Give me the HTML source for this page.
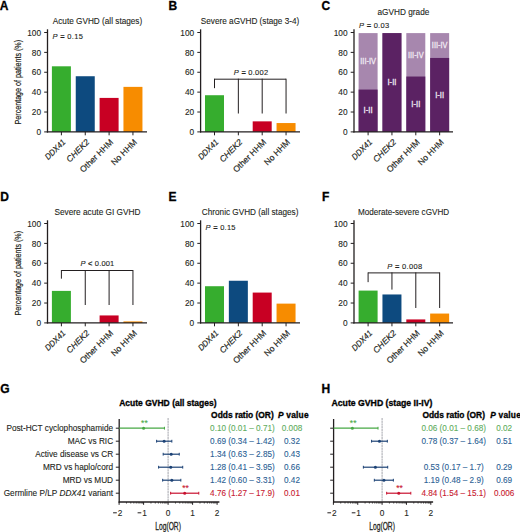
<!DOCTYPE html><html><head><meta charset="utf-8"><style>html,body{margin:0;padding:0;background:#fff;}svg{display:block;}text{font-family:"Liberation Sans", sans-serif;}</style></head><body>
<svg width="520" height="532" viewBox="0 0 520 532">
<rect width="520" height="532" fill="#fff"/>
<text x="-0.20" y="10.40" font-size="12" text-anchor="start" fill="#000" stroke="#000" stroke-width="0.3" font-weight="bold" >A</text>
<text x="168.40" y="10.40" font-size="12" text-anchor="start" fill="#000" stroke="#000" stroke-width="0.3" font-weight="bold" >B</text>
<text x="321.40" y="10.40" font-size="12" text-anchor="start" fill="#000" stroke="#000" stroke-width="0.3" font-weight="bold" >C</text>
<text x="0.20" y="201.30" font-size="12" text-anchor="start" fill="#000" stroke="#000" stroke-width="0.3" font-weight="bold" >D</text>
<text x="168.60" y="201.30" font-size="12" text-anchor="start" fill="#000" stroke="#000" stroke-width="0.3" font-weight="bold" >E</text>
<text x="322.00" y="201.30" font-size="12" text-anchor="start" fill="#000" stroke="#000" stroke-width="0.3" font-weight="bold" >F</text>
<text x="0.30" y="392.60" font-size="12" text-anchor="start" fill="#000" stroke="#000" stroke-width="0.3" font-weight="bold" >G</text>
<text x="321.40" y="392.60" font-size="12" text-anchor="start" fill="#000" stroke="#000" stroke-width="0.3" font-weight="bold" >H</text>
<rect x="51.90" y="66.30" width="19.00" height="65.60" fill="#36ad2e"/>
<rect x="75.75" y="76.24" width="19.00" height="55.66" fill="#0d4a7f"/>
<rect x="99.60" y="97.91" width="19.00" height="33.99" fill="#c80023"/>
<rect x="123.45" y="86.87" width="19.00" height="45.03" fill="#f78c00"/>
<line x1="47.50" y1="29.30" x2="47.50" y2="132.50" stroke="#231f20" stroke-width="1.3" />
<line x1="44.20" y1="131.90" x2="47.50" y2="131.90" stroke="#231f20" stroke-width="1.0" />
<text x="41.10" y="135.10" font-size="8.3" text-anchor="end" fill="#231f20" stroke="#231f20" stroke-width="0.1" >0</text>
<line x1="44.20" y1="112.02" x2="47.50" y2="112.02" stroke="#231f20" stroke-width="1.0" />
<text x="41.10" y="115.22" font-size="8.3" text-anchor="end" fill="#231f20" stroke="#231f20" stroke-width="0.1" >20</text>
<line x1="44.20" y1="92.14" x2="47.50" y2="92.14" stroke="#231f20" stroke-width="1.0" />
<text x="41.10" y="95.34" font-size="8.3" text-anchor="end" fill="#231f20" stroke="#231f20" stroke-width="0.1" >40</text>
<line x1="44.20" y1="72.26" x2="47.50" y2="72.26" stroke="#231f20" stroke-width="1.0" />
<text x="41.10" y="75.46" font-size="8.3" text-anchor="end" fill="#231f20" stroke="#231f20" stroke-width="0.1" >60</text>
<line x1="44.20" y1="52.38" x2="47.50" y2="52.38" stroke="#231f20" stroke-width="1.0" />
<text x="41.10" y="55.58" font-size="8.3" text-anchor="end" fill="#231f20" stroke="#231f20" stroke-width="0.1" >80</text>
<line x1="44.20" y1="32.50" x2="47.50" y2="32.50" stroke="#231f20" stroke-width="1.0" />
<text x="41.10" y="35.70" font-size="8.3" text-anchor="end" fill="#231f20" stroke="#231f20" stroke-width="0.1" >100</text>
<line x1="46.90" y1="131.90" x2="147.00" y2="131.90" stroke="#231f20" stroke-width="1.3" />
<line x1="61.40" y1="131.90" x2="61.40" y2="135.30" stroke="#231f20" stroke-width="1.0" />
<text x="66.00" y="142.70" font-size="8.5" text-anchor="end" fill="#231f20" stroke="#231f20" stroke-width="0.18" font-style="italic" textLength="25" lengthAdjust="spacingAndGlyphs" transform="rotate(-45 66.00 142.70)">DDX41</text>
<line x1="85.25" y1="131.90" x2="85.25" y2="135.30" stroke="#231f20" stroke-width="1.0" />
<text x="89.85" y="142.70" font-size="8.5" text-anchor="end" fill="#231f20" stroke="#231f20" stroke-width="0.18" font-style="italic" transform="rotate(-45 89.85 142.70)">CHEK2</text>
<line x1="109.10" y1="131.90" x2="109.10" y2="135.30" stroke="#231f20" stroke-width="1.0" />
<text x="113.70" y="142.70" font-size="8.5" text-anchor="end" fill="#231f20" stroke="#231f20" stroke-width="0.18" transform="rotate(-45 113.70 142.70)">Other HHM</text>
<line x1="132.95" y1="131.90" x2="132.95" y2="135.30" stroke="#231f20" stroke-width="1.0" />
<text x="137.55" y="142.70" font-size="8.5" text-anchor="end" fill="#231f20" stroke="#231f20" stroke-width="0.18" transform="rotate(-45 137.55 142.70)">No HHM</text>
<text x="52.80" y="24.00" font-size="8.2" text-anchor="start" fill="#231f20" stroke="#231f20" stroke-width="0.1" textLength="89.4" lengthAdjust="spacingAndGlyphs" >Acute GVHD (all stages)</text>
<text x="0" y="0" font-size="8.2" text-anchor="middle" fill="#231f20" stroke="#231f20" stroke-width="0.2" transform="translate(20.9 82.20) rotate(-90)" textLength="84.5" lengthAdjust="spacingAndGlyphs">Percentage of patients (%)</text>
<text x="52.60" y="38.90" font-size="7.5" fill="#231f20" stroke="#231f20" stroke-width="0.12" textLength="30.2" lengthAdjust="spacing"><tspan font-style="italic">P</tspan> <tspan font-weight="bold">=</tspan> 0.15</text>
<rect x="205.00" y="95.22" width="19.00" height="36.68" fill="#36ad2e"/>
<rect x="252.70" y="121.36" width="19.00" height="10.54" fill="#c80023"/>
<rect x="276.55" y="123.05" width="19.00" height="8.85" fill="#f78c00"/>
<line x1="200.60" y1="29.30" x2="200.60" y2="132.50" stroke="#231f20" stroke-width="1.3" />
<line x1="197.30" y1="131.90" x2="200.60" y2="131.90" stroke="#231f20" stroke-width="1.0" />
<text x="194.20" y="135.10" font-size="8.3" text-anchor="end" fill="#231f20" stroke="#231f20" stroke-width="0.1" >0</text>
<line x1="197.30" y1="112.02" x2="200.60" y2="112.02" stroke="#231f20" stroke-width="1.0" />
<text x="194.20" y="115.22" font-size="8.3" text-anchor="end" fill="#231f20" stroke="#231f20" stroke-width="0.1" >20</text>
<line x1="197.30" y1="92.14" x2="200.60" y2="92.14" stroke="#231f20" stroke-width="1.0" />
<text x="194.20" y="95.34" font-size="8.3" text-anchor="end" fill="#231f20" stroke="#231f20" stroke-width="0.1" >40</text>
<line x1="197.30" y1="72.26" x2="200.60" y2="72.26" stroke="#231f20" stroke-width="1.0" />
<text x="194.20" y="75.46" font-size="8.3" text-anchor="end" fill="#231f20" stroke="#231f20" stroke-width="0.1" >60</text>
<line x1="197.30" y1="52.38" x2="200.60" y2="52.38" stroke="#231f20" stroke-width="1.0" />
<text x="194.20" y="55.58" font-size="8.3" text-anchor="end" fill="#231f20" stroke="#231f20" stroke-width="0.1" >80</text>
<line x1="197.30" y1="32.50" x2="200.60" y2="32.50" stroke="#231f20" stroke-width="1.0" />
<text x="194.20" y="35.70" font-size="8.3" text-anchor="end" fill="#231f20" stroke="#231f20" stroke-width="0.1" >100</text>
<line x1="200.00" y1="131.90" x2="300.00" y2="131.90" stroke="#231f20" stroke-width="1.3" />
<line x1="214.50" y1="131.90" x2="214.50" y2="135.30" stroke="#231f20" stroke-width="1.0" />
<text x="219.10" y="142.70" font-size="8.5" text-anchor="end" fill="#231f20" stroke="#231f20" stroke-width="0.18" font-style="italic" textLength="25" lengthAdjust="spacingAndGlyphs" transform="rotate(-45 219.10 142.70)">DDX41</text>
<line x1="238.35" y1="131.90" x2="238.35" y2="135.30" stroke="#231f20" stroke-width="1.0" />
<text x="242.95" y="142.70" font-size="8.5" text-anchor="end" fill="#231f20" stroke="#231f20" stroke-width="0.18" font-style="italic" transform="rotate(-45 242.95 142.70)">CHEK2</text>
<line x1="262.20" y1="131.90" x2="262.20" y2="135.30" stroke="#231f20" stroke-width="1.0" />
<text x="266.80" y="142.70" font-size="8.5" text-anchor="end" fill="#231f20" stroke="#231f20" stroke-width="0.18" transform="rotate(-45 266.80 142.70)">Other HHM</text>
<line x1="286.05" y1="131.90" x2="286.05" y2="135.30" stroke="#231f20" stroke-width="1.0" />
<text x="290.65" y="142.70" font-size="8.5" text-anchor="end" fill="#231f20" stroke="#231f20" stroke-width="0.18" transform="rotate(-45 290.65 142.70)">No HHM</text>
<text x="200.80" y="24.00" font-size="8.2" text-anchor="start" fill="#231f20" stroke="#231f20" stroke-width="0.1" textLength="98.5" lengthAdjust="spacingAndGlyphs" >Severe aGVHD (stage 3-4)</text>
<text x="233.80" y="75.00" font-size="7.5" fill="#231f20" stroke="#231f20" stroke-width="0.12" textLength="34.3" lengthAdjust="spacing"><tspan font-style="italic">P</tspan> <tspan font-weight="bold">=</tspan> 0.002</text>
<line x1="214.50" y1="79.20" x2="286.05" y2="79.20" stroke="#231f20" stroke-width="1.0" />
<line x1="214.50" y1="78.70" x2="214.50" y2="88.16" stroke="#231f20" stroke-width="1.0" />
<line x1="238.35" y1="78.70" x2="238.35" y2="113.51" stroke="#231f20" stroke-width="1.0" />
<line x1="262.20" y1="78.70" x2="262.20" y2="113.51" stroke="#231f20" stroke-width="1.0" />
<line x1="286.05" y1="78.70" x2="286.05" y2="113.51" stroke="#231f20" stroke-width="1.0" />
<rect x="358.60" y="33.10" width="19.00" height="98.80" fill="#a787ae"/>
<rect x="358.60" y="89.56" width="19.00" height="42.34" fill="#5b2263"/>
<text x="368.10" y="64.23" font-size="9.2" text-anchor="middle" fill="#f3edf5" stroke="#f3edf5" stroke-width="0.3" textLength="15.6" lengthAdjust="spacingAndGlyphs" >III-IV</text>
<text x="368.10" y="113.33" font-size="9.2" text-anchor="middle" fill="#f3edf5" stroke="#f3edf5" stroke-width="0.3" textLength="9.0" lengthAdjust="spacingAndGlyphs" >I-II</text>
<rect x="382.45" y="33.10" width="19.00" height="98.80" fill="#a787ae"/>
<rect x="382.45" y="33.10" width="19.00" height="98.80" fill="#5b2263"/>
<text x="391.95" y="84.80" font-size="9.2" text-anchor="middle" fill="#f3edf5" stroke="#f3edf5" stroke-width="0.3" textLength="9.0" lengthAdjust="spacingAndGlyphs" >I-II</text>
<rect x="406.30" y="33.10" width="19.00" height="98.80" fill="#a787ae"/>
<rect x="406.30" y="76.53" width="19.00" height="55.37" fill="#5b2263"/>
<text x="415.80" y="57.72" font-size="9.2" text-anchor="middle" fill="#f3edf5" stroke="#f3edf5" stroke-width="0.3" textLength="15.6" lengthAdjust="spacingAndGlyphs" >III-IV</text>
<text x="415.80" y="106.82" font-size="9.2" text-anchor="middle" fill="#f3edf5" stroke="#f3edf5" stroke-width="0.3" textLength="9.0" lengthAdjust="spacingAndGlyphs" >I-II</text>
<rect x="430.15" y="33.10" width="19.00" height="98.80" fill="#a787ae"/>
<rect x="430.15" y="57.95" width="19.00" height="73.95" fill="#5b2263"/>
<text x="439.65" y="48.42" font-size="9.2" text-anchor="middle" fill="#f3edf5" stroke="#f3edf5" stroke-width="0.3" textLength="15.6" lengthAdjust="spacingAndGlyphs" >III-IV</text>
<text x="439.65" y="97.52" font-size="9.2" text-anchor="middle" fill="#f3edf5" stroke="#f3edf5" stroke-width="0.3" textLength="9.0" lengthAdjust="spacingAndGlyphs" >I-II</text>
<line x1="354.00" y1="29.30" x2="354.00" y2="132.50" stroke="#231f20" stroke-width="1.3" />
<line x1="350.70" y1="131.90" x2="354.00" y2="131.90" stroke="#231f20" stroke-width="1.0" />
<text x="347.60" y="135.10" font-size="8.3" text-anchor="end" fill="#231f20" stroke="#231f20" stroke-width="0.1" >0</text>
<line x1="350.70" y1="112.02" x2="354.00" y2="112.02" stroke="#231f20" stroke-width="1.0" />
<text x="347.60" y="115.22" font-size="8.3" text-anchor="end" fill="#231f20" stroke="#231f20" stroke-width="0.1" >20</text>
<line x1="350.70" y1="92.14" x2="354.00" y2="92.14" stroke="#231f20" stroke-width="1.0" />
<text x="347.60" y="95.34" font-size="8.3" text-anchor="end" fill="#231f20" stroke="#231f20" stroke-width="0.1" >40</text>
<line x1="350.70" y1="72.26" x2="354.00" y2="72.26" stroke="#231f20" stroke-width="1.0" />
<text x="347.60" y="75.46" font-size="8.3" text-anchor="end" fill="#231f20" stroke="#231f20" stroke-width="0.1" >60</text>
<line x1="350.70" y1="52.38" x2="354.00" y2="52.38" stroke="#231f20" stroke-width="1.0" />
<text x="347.60" y="55.58" font-size="8.3" text-anchor="end" fill="#231f20" stroke="#231f20" stroke-width="0.1" >80</text>
<line x1="350.70" y1="32.50" x2="354.00" y2="32.50" stroke="#231f20" stroke-width="1.0" />
<text x="347.60" y="35.70" font-size="8.3" text-anchor="end" fill="#231f20" stroke="#231f20" stroke-width="0.1" >100</text>
<line x1="353.40" y1="131.90" x2="453.00" y2="131.90" stroke="#231f20" stroke-width="1.3" />
<line x1="368.10" y1="131.90" x2="368.10" y2="135.30" stroke="#231f20" stroke-width="1.0" />
<text x="372.70" y="142.70" font-size="8.5" text-anchor="end" fill="#231f20" stroke="#231f20" stroke-width="0.18" font-style="italic" textLength="25" lengthAdjust="spacingAndGlyphs" transform="rotate(-45 372.70 142.70)">DDX41</text>
<line x1="391.95" y1="131.90" x2="391.95" y2="135.30" stroke="#231f20" stroke-width="1.0" />
<text x="396.55" y="142.70" font-size="8.5" text-anchor="end" fill="#231f20" stroke="#231f20" stroke-width="0.18" font-style="italic" transform="rotate(-45 396.55 142.70)">CHEK2</text>
<line x1="415.80" y1="131.90" x2="415.80" y2="135.30" stroke="#231f20" stroke-width="1.0" />
<text x="420.40" y="142.70" font-size="8.5" text-anchor="end" fill="#231f20" stroke="#231f20" stroke-width="0.18" transform="rotate(-45 420.40 142.70)">Other HHM</text>
<line x1="439.65" y1="131.90" x2="439.65" y2="135.30" stroke="#231f20" stroke-width="1.0" />
<text x="444.25" y="142.70" font-size="8.5" text-anchor="end" fill="#231f20" stroke="#231f20" stroke-width="0.18" transform="rotate(-45 444.25 142.70)">No HHM</text>
<text x="377.50" y="14.80" font-size="8.2" text-anchor="start" fill="#231f20" stroke="#231f20" stroke-width="0.1" textLength="51.9" lengthAdjust="spacingAndGlyphs" >aGVHD grade</text>
<text x="359.00" y="28.40" font-size="7.5" fill="#231f20" stroke="#231f20" stroke-width="0.12" textLength="30.1" lengthAdjust="spacing"><tspan font-style="italic">P</tspan> <tspan font-weight="bold">=</tspan> 0.03</text>
<rect x="51.90" y="290.89" width="19.00" height="32.01" fill="#36ad2e"/>
<rect x="99.60" y="315.44" width="19.00" height="7.46" fill="#c80023"/>
<rect x="123.45" y="321.41" width="19.00" height="1.49" fill="#f78c00"/>
<line x1="47.50" y1="220.30" x2="47.50" y2="323.50" stroke="#231f20" stroke-width="1.3" />
<line x1="44.20" y1="322.90" x2="47.50" y2="322.90" stroke="#231f20" stroke-width="1.0" />
<text x="41.10" y="326.10" font-size="8.3" text-anchor="end" fill="#231f20" stroke="#231f20" stroke-width="0.1" >0</text>
<line x1="44.20" y1="303.02" x2="47.50" y2="303.02" stroke="#231f20" stroke-width="1.0" />
<text x="41.10" y="306.22" font-size="8.3" text-anchor="end" fill="#231f20" stroke="#231f20" stroke-width="0.1" >20</text>
<line x1="44.20" y1="283.14" x2="47.50" y2="283.14" stroke="#231f20" stroke-width="1.0" />
<text x="41.10" y="286.34" font-size="8.3" text-anchor="end" fill="#231f20" stroke="#231f20" stroke-width="0.1" >40</text>
<line x1="44.20" y1="263.26" x2="47.50" y2="263.26" stroke="#231f20" stroke-width="1.0" />
<text x="41.10" y="266.46" font-size="8.3" text-anchor="end" fill="#231f20" stroke="#231f20" stroke-width="0.1" >60</text>
<line x1="44.20" y1="243.38" x2="47.50" y2="243.38" stroke="#231f20" stroke-width="1.0" />
<text x="41.10" y="246.58" font-size="8.3" text-anchor="end" fill="#231f20" stroke="#231f20" stroke-width="0.1" >80</text>
<line x1="44.20" y1="223.50" x2="47.50" y2="223.50" stroke="#231f20" stroke-width="1.0" />
<text x="41.10" y="226.70" font-size="8.3" text-anchor="end" fill="#231f20" stroke="#231f20" stroke-width="0.1" >100</text>
<line x1="46.90" y1="322.90" x2="147.00" y2="322.90" stroke="#231f20" stroke-width="1.3" />
<line x1="61.40" y1="322.90" x2="61.40" y2="326.30" stroke="#231f20" stroke-width="1.0" />
<text x="66.00" y="333.70" font-size="8.5" text-anchor="end" fill="#231f20" stroke="#231f20" stroke-width="0.18" font-style="italic" textLength="25" lengthAdjust="spacingAndGlyphs" transform="rotate(-45 66.00 333.70)">DDX41</text>
<line x1="85.25" y1="322.90" x2="85.25" y2="326.30" stroke="#231f20" stroke-width="1.0" />
<text x="89.85" y="333.70" font-size="8.5" text-anchor="end" fill="#231f20" stroke="#231f20" stroke-width="0.18" font-style="italic" transform="rotate(-45 89.85 333.70)">CHEK2</text>
<line x1="109.10" y1="322.90" x2="109.10" y2="326.30" stroke="#231f20" stroke-width="1.0" />
<text x="113.70" y="333.70" font-size="8.5" text-anchor="end" fill="#231f20" stroke="#231f20" stroke-width="0.18" transform="rotate(-45 113.70 333.70)">Other HHM</text>
<line x1="132.95" y1="322.90" x2="132.95" y2="326.30" stroke="#231f20" stroke-width="1.0" />
<text x="137.55" y="333.70" font-size="8.5" text-anchor="end" fill="#231f20" stroke="#231f20" stroke-width="0.18" transform="rotate(-45 137.55 333.70)">No HHM</text>
<text x="54.50" y="215.00" font-size="8.2" text-anchor="start" fill="#231f20" stroke="#231f20" stroke-width="0.1" textLength="86.0" lengthAdjust="spacingAndGlyphs" >Severe acute GI GVHD</text>
<text x="0" y="0" font-size="8.2" text-anchor="middle" fill="#231f20" stroke="#231f20" stroke-width="0.2" transform="translate(20.9 273.20) rotate(-90)" textLength="84.5" lengthAdjust="spacingAndGlyphs">Percentage of patients (%)</text>
<text x="80.60" y="266.00" font-size="7.5" fill="#231f20" stroke="#231f20" stroke-width="0.12" textLength="33.6" lengthAdjust="spacing"><tspan font-style="italic">P</tspan> <tspan font-weight="bold">&lt;</tspan> 0.001</text>
<line x1="61.40" y1="270.50" x2="132.95" y2="270.50" stroke="#231f20" stroke-width="1.0" />
<line x1="61.40" y1="270.00" x2="61.40" y2="278.67" stroke="#231f20" stroke-width="1.0" />
<line x1="85.25" y1="270.00" x2="85.25" y2="305.01" stroke="#231f20" stroke-width="1.0" />
<line x1="109.10" y1="270.00" x2="109.10" y2="305.01" stroke="#231f20" stroke-width="1.0" />
<line x1="132.95" y1="270.00" x2="132.95" y2="305.01" stroke="#231f20" stroke-width="1.0" />
<rect x="205.00" y="286.22" width="19.00" height="36.68" fill="#36ad2e"/>
<rect x="228.85" y="280.75" width="19.00" height="42.15" fill="#0d4a7f"/>
<rect x="252.70" y="292.58" width="19.00" height="30.32" fill="#c80023"/>
<rect x="276.55" y="303.62" width="19.00" height="19.28" fill="#f78c00"/>
<line x1="200.60" y1="220.30" x2="200.60" y2="323.50" stroke="#231f20" stroke-width="1.3" />
<line x1="197.30" y1="322.90" x2="200.60" y2="322.90" stroke="#231f20" stroke-width="1.0" />
<text x="194.20" y="326.10" font-size="8.3" text-anchor="end" fill="#231f20" stroke="#231f20" stroke-width="0.1" >0</text>
<line x1="197.30" y1="303.02" x2="200.60" y2="303.02" stroke="#231f20" stroke-width="1.0" />
<text x="194.20" y="306.22" font-size="8.3" text-anchor="end" fill="#231f20" stroke="#231f20" stroke-width="0.1" >20</text>
<line x1="197.30" y1="283.14" x2="200.60" y2="283.14" stroke="#231f20" stroke-width="1.0" />
<text x="194.20" y="286.34" font-size="8.3" text-anchor="end" fill="#231f20" stroke="#231f20" stroke-width="0.1" >40</text>
<line x1="197.30" y1="263.26" x2="200.60" y2="263.26" stroke="#231f20" stroke-width="1.0" />
<text x="194.20" y="266.46" font-size="8.3" text-anchor="end" fill="#231f20" stroke="#231f20" stroke-width="0.1" >60</text>
<line x1="197.30" y1="243.38" x2="200.60" y2="243.38" stroke="#231f20" stroke-width="1.0" />
<text x="194.20" y="246.58" font-size="8.3" text-anchor="end" fill="#231f20" stroke="#231f20" stroke-width="0.1" >80</text>
<line x1="197.30" y1="223.50" x2="200.60" y2="223.50" stroke="#231f20" stroke-width="1.0" />
<text x="194.20" y="226.70" font-size="8.3" text-anchor="end" fill="#231f20" stroke="#231f20" stroke-width="0.1" >100</text>
<line x1="200.00" y1="322.90" x2="300.00" y2="322.90" stroke="#231f20" stroke-width="1.3" />
<line x1="214.50" y1="322.90" x2="214.50" y2="326.30" stroke="#231f20" stroke-width="1.0" />
<text x="219.10" y="333.70" font-size="8.5" text-anchor="end" fill="#231f20" stroke="#231f20" stroke-width="0.18" font-style="italic" textLength="25" lengthAdjust="spacingAndGlyphs" transform="rotate(-45 219.10 333.70)">DDX41</text>
<line x1="238.35" y1="322.90" x2="238.35" y2="326.30" stroke="#231f20" stroke-width="1.0" />
<text x="242.95" y="333.70" font-size="8.5" text-anchor="end" fill="#231f20" stroke="#231f20" stroke-width="0.18" font-style="italic" transform="rotate(-45 242.95 333.70)">CHEK2</text>
<line x1="262.20" y1="322.90" x2="262.20" y2="326.30" stroke="#231f20" stroke-width="1.0" />
<text x="266.80" y="333.70" font-size="8.5" text-anchor="end" fill="#231f20" stroke="#231f20" stroke-width="0.18" transform="rotate(-45 266.80 333.70)">Other HHM</text>
<line x1="286.05" y1="322.90" x2="286.05" y2="326.30" stroke="#231f20" stroke-width="1.0" />
<text x="290.65" y="333.70" font-size="8.5" text-anchor="end" fill="#231f20" stroke="#231f20" stroke-width="0.18" transform="rotate(-45 290.65 333.70)">No HHM</text>
<text x="201.80" y="215.00" font-size="8.2" text-anchor="start" fill="#231f20" stroke="#231f20" stroke-width="0.1" textLength="96.6" lengthAdjust="spacingAndGlyphs" >Chronic GVHD (all stages)</text>
<text x="205.60" y="230.30" font-size="7.5" fill="#231f20" stroke="#231f20" stroke-width="0.12" textLength="29.9" lengthAdjust="spacing"><tspan font-style="italic">P</tspan> <tspan font-weight="bold">=</tspan> 0.15</text>
<rect x="358.60" y="290.59" width="19.00" height="32.30" fill="#36ad2e"/>
<rect x="382.45" y="294.47" width="19.00" height="28.43" fill="#0d4a7f"/>
<rect x="406.30" y="319.42" width="19.00" height="3.48" fill="#c80023"/>
<rect x="430.15" y="313.56" width="19.00" height="9.34" fill="#f78c00"/>
<line x1="354.00" y1="220.30" x2="354.00" y2="323.50" stroke="#231f20" stroke-width="1.3" />
<line x1="350.70" y1="322.90" x2="354.00" y2="322.90" stroke="#231f20" stroke-width="1.0" />
<text x="347.60" y="326.10" font-size="8.3" text-anchor="end" fill="#231f20" stroke="#231f20" stroke-width="0.1" >0</text>
<line x1="350.70" y1="303.02" x2="354.00" y2="303.02" stroke="#231f20" stroke-width="1.0" />
<text x="347.60" y="306.22" font-size="8.3" text-anchor="end" fill="#231f20" stroke="#231f20" stroke-width="0.1" >20</text>
<line x1="350.70" y1="283.14" x2="354.00" y2="283.14" stroke="#231f20" stroke-width="1.0" />
<text x="347.60" y="286.34" font-size="8.3" text-anchor="end" fill="#231f20" stroke="#231f20" stroke-width="0.1" >40</text>
<line x1="350.70" y1="263.26" x2="354.00" y2="263.26" stroke="#231f20" stroke-width="1.0" />
<text x="347.60" y="266.46" font-size="8.3" text-anchor="end" fill="#231f20" stroke="#231f20" stroke-width="0.1" >60</text>
<line x1="350.70" y1="243.38" x2="354.00" y2="243.38" stroke="#231f20" stroke-width="1.0" />
<text x="347.60" y="246.58" font-size="8.3" text-anchor="end" fill="#231f20" stroke="#231f20" stroke-width="0.1" >80</text>
<line x1="350.70" y1="223.50" x2="354.00" y2="223.50" stroke="#231f20" stroke-width="1.0" />
<text x="347.60" y="226.70" font-size="8.3" text-anchor="end" fill="#231f20" stroke="#231f20" stroke-width="0.1" >100</text>
<line x1="353.40" y1="322.90" x2="453.00" y2="322.90" stroke="#231f20" stroke-width="1.3" />
<line x1="368.10" y1="322.90" x2="368.10" y2="326.30" stroke="#231f20" stroke-width="1.0" />
<text x="372.70" y="333.70" font-size="8.5" text-anchor="end" fill="#231f20" stroke="#231f20" stroke-width="0.18" font-style="italic" textLength="25" lengthAdjust="spacingAndGlyphs" transform="rotate(-45 372.70 333.70)">DDX41</text>
<line x1="391.95" y1="322.90" x2="391.95" y2="326.30" stroke="#231f20" stroke-width="1.0" />
<text x="396.55" y="333.70" font-size="8.5" text-anchor="end" fill="#231f20" stroke="#231f20" stroke-width="0.18" font-style="italic" transform="rotate(-45 396.55 333.70)">CHEK2</text>
<line x1="415.80" y1="322.90" x2="415.80" y2="326.30" stroke="#231f20" stroke-width="1.0" />
<text x="420.40" y="333.70" font-size="8.5" text-anchor="end" fill="#231f20" stroke="#231f20" stroke-width="0.18" transform="rotate(-45 420.40 333.70)">Other HHM</text>
<line x1="439.65" y1="322.90" x2="439.65" y2="326.30" stroke="#231f20" stroke-width="1.0" />
<text x="444.25" y="333.70" font-size="8.5" text-anchor="end" fill="#231f20" stroke="#231f20" stroke-width="0.18" transform="rotate(-45 444.25 333.70)">No HHM</text>
<text x="357.90" y="214.50" font-size="8.2" text-anchor="start" fill="#231f20" stroke="#231f20" stroke-width="0.1" textLength="91.3" lengthAdjust="spacingAndGlyphs" >Moderate-severe cGVHD</text>
<text x="387.20" y="268.50" font-size="7.5" fill="#231f20" stroke="#231f20" stroke-width="0.12" textLength="35.0" lengthAdjust="spacing"><tspan font-style="italic">P</tspan> <tspan font-weight="bold">=</tspan> 0.008</text>
<line x1="368.10" y1="272.90" x2="439.65" y2="272.90" stroke="#231f20" stroke-width="1.0" />
<line x1="368.10" y1="272.40" x2="368.10" y2="282.15" stroke="#231f20" stroke-width="1.0" />
<line x1="391.95" y1="272.40" x2="391.95" y2="289.60" stroke="#231f20" stroke-width="1.0" />
<line x1="415.80" y1="272.40" x2="415.80" y2="307.99" stroke="#231f20" stroke-width="1.0" />
<line x1="439.65" y1="272.40" x2="439.65" y2="307.99" stroke="#231f20" stroke-width="1.0" />
<text x="119.20" y="405.60" font-size="8.5" text-anchor="start" fill="#000" stroke="#000" stroke-width="0.3" font-weight="bold" textLength="97.4" lengthAdjust="spacingAndGlyphs" >Acute GVHD (all stages)</text>
<line x1="168.10" y1="418.00" x2="168.10" y2="502.00" stroke="#9a9ca4" stroke-width="0.9" stroke-dasharray="2.2 0.5"/>
<line x1="119.20" y1="419.00" x2="119.20" y2="502.60" stroke="#231f20" stroke-width="1.3" />
<line x1="115.80" y1="428.20" x2="119.20" y2="428.20" stroke="#231f20" stroke-width="1.0" />
<line x1="115.80" y1="441.20" x2="119.20" y2="441.20" stroke="#231f20" stroke-width="1.0" />
<line x1="115.80" y1="454.20" x2="119.20" y2="454.20" stroke="#231f20" stroke-width="1.0" />
<line x1="115.80" y1="467.20" x2="119.20" y2="467.20" stroke="#231f20" stroke-width="1.0" />
<line x1="115.80" y1="480.20" x2="119.20" y2="480.20" stroke="#231f20" stroke-width="1.0" />
<line x1="115.80" y1="493.20" x2="119.20" y2="493.20" stroke="#231f20" stroke-width="1.0" />
<line x1="118.60" y1="502.00" x2="219.40" y2="502.00" stroke="#231f20" stroke-width="1.3" />
<line x1="119.10" y1="502.00" x2="119.10" y2="504.80" stroke="#231f20" stroke-width="1.0" />
<text x="120.00" y="515.60" font-size="8.3" text-anchor="middle" fill="#231f20" stroke="#231f20" stroke-width="0.1" >2</text>
<line x1="113.10" y1="512.80" x2="116.80" y2="512.80" stroke="#231f20" stroke-width="1.0" />
<line x1="126.48" y1="502.00" x2="126.48" y2="503.60" stroke="#231f20" stroke-width="0.7" />
<line x1="130.79" y1="502.00" x2="130.79" y2="503.60" stroke="#231f20" stroke-width="0.7" />
<line x1="133.85" y1="502.00" x2="133.85" y2="503.60" stroke="#231f20" stroke-width="0.7" />
<line x1="136.22" y1="502.00" x2="136.22" y2="503.60" stroke="#231f20" stroke-width="0.7" />
<line x1="138.16" y1="502.00" x2="138.16" y2="503.60" stroke="#231f20" stroke-width="0.7" />
<line x1="139.80" y1="502.00" x2="139.80" y2="503.60" stroke="#231f20" stroke-width="0.7" />
<line x1="141.23" y1="502.00" x2="141.23" y2="503.60" stroke="#231f20" stroke-width="0.7" />
<line x1="142.48" y1="502.00" x2="142.48" y2="503.60" stroke="#231f20" stroke-width="0.7" />
<line x1="143.60" y1="502.00" x2="143.60" y2="504.80" stroke="#231f20" stroke-width="1.0" />
<text x="144.50" y="515.60" font-size="8.3" text-anchor="middle" fill="#231f20" stroke="#231f20" stroke-width="0.1" >1</text>
<line x1="137.60" y1="512.80" x2="141.30" y2="512.80" stroke="#231f20" stroke-width="1.0" />
<line x1="150.98" y1="502.00" x2="150.98" y2="503.60" stroke="#231f20" stroke-width="0.7" />
<line x1="155.29" y1="502.00" x2="155.29" y2="503.60" stroke="#231f20" stroke-width="0.7" />
<line x1="158.35" y1="502.00" x2="158.35" y2="503.60" stroke="#231f20" stroke-width="0.7" />
<line x1="160.72" y1="502.00" x2="160.72" y2="503.60" stroke="#231f20" stroke-width="0.7" />
<line x1="162.66" y1="502.00" x2="162.66" y2="503.60" stroke="#231f20" stroke-width="0.7" />
<line x1="164.30" y1="502.00" x2="164.30" y2="503.60" stroke="#231f20" stroke-width="0.7" />
<line x1="165.73" y1="502.00" x2="165.73" y2="503.60" stroke="#231f20" stroke-width="0.7" />
<line x1="166.98" y1="502.00" x2="166.98" y2="503.60" stroke="#231f20" stroke-width="0.7" />
<line x1="168.10" y1="502.00" x2="168.10" y2="504.80" stroke="#231f20" stroke-width="1.0" />
<text x="168.10" y="515.60" font-size="8.3" text-anchor="middle" fill="#231f20" stroke="#231f20" stroke-width="0.1" >0</text>
<line x1="175.48" y1="502.00" x2="175.48" y2="503.60" stroke="#231f20" stroke-width="0.7" />
<line x1="179.79" y1="502.00" x2="179.79" y2="503.60" stroke="#231f20" stroke-width="0.7" />
<line x1="182.85" y1="502.00" x2="182.85" y2="503.60" stroke="#231f20" stroke-width="0.7" />
<line x1="185.22" y1="502.00" x2="185.22" y2="503.60" stroke="#231f20" stroke-width="0.7" />
<line x1="187.16" y1="502.00" x2="187.16" y2="503.60" stroke="#231f20" stroke-width="0.7" />
<line x1="188.80" y1="502.00" x2="188.80" y2="503.60" stroke="#231f20" stroke-width="0.7" />
<line x1="190.23" y1="502.00" x2="190.23" y2="503.60" stroke="#231f20" stroke-width="0.7" />
<line x1="191.48" y1="502.00" x2="191.48" y2="503.60" stroke="#231f20" stroke-width="0.7" />
<line x1="192.60" y1="502.00" x2="192.60" y2="504.80" stroke="#231f20" stroke-width="1.0" />
<text x="192.60" y="515.60" font-size="8.3" text-anchor="middle" fill="#231f20" stroke="#231f20" stroke-width="0.1" >1</text>
<line x1="199.98" y1="502.00" x2="199.98" y2="503.60" stroke="#231f20" stroke-width="0.7" />
<line x1="204.29" y1="502.00" x2="204.29" y2="503.60" stroke="#231f20" stroke-width="0.7" />
<line x1="207.35" y1="502.00" x2="207.35" y2="503.60" stroke="#231f20" stroke-width="0.7" />
<line x1="209.72" y1="502.00" x2="209.72" y2="503.60" stroke="#231f20" stroke-width="0.7" />
<line x1="211.66" y1="502.00" x2="211.66" y2="503.60" stroke="#231f20" stroke-width="0.7" />
<line x1="213.30" y1="502.00" x2="213.30" y2="503.60" stroke="#231f20" stroke-width="0.7" />
<line x1="214.73" y1="502.00" x2="214.73" y2="503.60" stroke="#231f20" stroke-width="0.7" />
<line x1="215.98" y1="502.00" x2="215.98" y2="503.60" stroke="#231f20" stroke-width="0.7" />
<line x1="217.10" y1="502.00" x2="217.10" y2="504.80" stroke="#231f20" stroke-width="1.0" />
<text x="217.10" y="515.60" font-size="8.3" text-anchor="middle" fill="#231f20" stroke="#231f20" stroke-width="0.1" >2</text>
<text x="168.10" y="529.70" font-size="10.6" text-anchor="middle" fill="#231f20" stroke="#231f20" stroke-width="0.3" textLength="25.6" lengthAdjust="spacingAndGlyphs" >Log(OR)</text>
<text x="242.40" y="417.70" font-size="8.4" text-anchor="middle" fill="#000" stroke="#000" stroke-width="0.3" font-weight="bold" textLength="62.6" lengthAdjust="spacingAndGlyphs" >Odds ratio (OR)</text>
<text x="278.00" y="417.7" font-size="8.4" font-weight="bold" fill="#000" stroke="#000" stroke-width="0.3" textLength="30.6" lengthAdjust="spacing"><tspan font-style="italic">P</tspan> value</text>
<line x1="119.20" y1="428.20" x2="164.46" y2="428.20" stroke="#47a844" stroke-width="1.2" />
<line x1="164.46" y1="426.80" x2="164.46" y2="429.60" stroke="#47a844" stroke-width="1.0" />
<circle cx="143.60" cy="428.20" r="1.5" fill="#47a844"/>
<text x="144.40" y="425.60" font-size="8.5" text-anchor="middle" fill="#47a844" stroke="#47a844" stroke-width="0.1" >**</text>
<text x="242.40" y="431.10" font-size="8.2" text-anchor="middle" fill="#62ad5e" stroke="#62ad5e" stroke-width="0.1" >0.10 (0.01 – 0.71)</text>
<text x="292.00" y="431.10" font-size="8.2" text-anchor="middle" fill="#62ad5e" stroke="#62ad5e" stroke-width="0.1" >0.008</text>
<line x1="156.62" y1="441.20" x2="171.83" y2="441.20" stroke="#1c4275" stroke-width="1.2" />
<line x1="171.83" y1="439.80" x2="171.83" y2="442.60" stroke="#1c4275" stroke-width="1.0" />
<line x1="156.62" y1="439.80" x2="156.62" y2="442.60" stroke="#1c4275" stroke-width="1.0" />
<circle cx="164.15" cy="441.20" r="1.5" fill="#1c4275"/>
<text x="242.40" y="444.10" font-size="8.2" text-anchor="middle" fill="#2c5f95" stroke="#2c5f95" stroke-width="0.1" >0.69 (0.34 – 1.42)</text>
<text x="292.00" y="444.10" font-size="8.2" text-anchor="middle" fill="#2c5f95" stroke="#2c5f95" stroke-width="0.1" >0.32</text>
<line x1="163.18" y1="454.20" x2="179.24" y2="454.20" stroke="#1c4275" stroke-width="1.2" />
<line x1="179.24" y1="452.80" x2="179.24" y2="455.60" stroke="#1c4275" stroke-width="1.0" />
<line x1="163.18" y1="452.80" x2="163.18" y2="455.60" stroke="#1c4275" stroke-width="1.0" />
<circle cx="171.21" cy="454.20" r="1.5" fill="#1c4275"/>
<text x="242.40" y="457.10" font-size="8.2" text-anchor="middle" fill="#2c5f95" stroke="#2c5f95" stroke-width="0.1" >1.34 (0.63 – 2.85)</text>
<text x="292.00" y="457.10" font-size="8.2" text-anchor="middle" fill="#2c5f95" stroke="#2c5f95" stroke-width="0.1" >0.43</text>
<line x1="158.61" y1="467.20" x2="182.72" y2="467.20" stroke="#1c4275" stroke-width="1.2" />
<line x1="182.72" y1="465.80" x2="182.72" y2="468.60" stroke="#1c4275" stroke-width="1.0" />
<line x1="158.61" y1="465.80" x2="158.61" y2="468.60" stroke="#1c4275" stroke-width="1.0" />
<circle cx="170.73" cy="467.20" r="1.5" fill="#1c4275"/>
<text x="242.40" y="470.10" font-size="8.2" text-anchor="middle" fill="#2c5f95" stroke="#2c5f95" stroke-width="0.1" >1.28 (0.41 – 3.95)</text>
<text x="292.00" y="470.10" font-size="8.2" text-anchor="middle" fill="#2c5f95" stroke="#2c5f95" stroke-width="0.1" >0.66</text>
<line x1="162.66" y1="480.20" x2="180.84" y2="480.20" stroke="#1c4275" stroke-width="1.2" />
<line x1="180.84" y1="478.80" x2="180.84" y2="481.60" stroke="#1c4275" stroke-width="1.0" />
<line x1="162.66" y1="478.80" x2="162.66" y2="481.60" stroke="#1c4275" stroke-width="1.0" />
<circle cx="171.83" cy="480.20" r="1.5" fill="#1c4275"/>
<text x="242.40" y="483.10" font-size="8.2" text-anchor="middle" fill="#2c5f95" stroke="#2c5f95" stroke-width="0.1" >1.42 (0.60 – 3.31)</text>
<text x="292.00" y="483.10" font-size="8.2" text-anchor="middle" fill="#2c5f95" stroke="#2c5f95" stroke-width="0.1" >0.42</text>
<line x1="170.64" y1="493.20" x2="198.79" y2="493.20" stroke="#c8102e" stroke-width="1.2" />
<line x1="198.79" y1="491.80" x2="198.79" y2="494.60" stroke="#c8102e" stroke-width="1.0" />
<line x1="170.64" y1="491.80" x2="170.64" y2="494.60" stroke="#c8102e" stroke-width="1.0" />
<circle cx="184.70" cy="493.20" r="1.5" fill="#c8102e"/>
<text x="185.50" y="490.60" font-size="8.5" text-anchor="middle" fill="#c8102e" stroke="#c8102e" stroke-width="0.1" >**</text>
<text x="242.40" y="496.10" font-size="8.2" text-anchor="middle" fill="#c8202f" stroke="#c8202f" stroke-width="0.1" >4.76 (1.27 – 17.9)</text>
<text x="292.00" y="496.10" font-size="8.2" text-anchor="middle" fill="#c8202f" stroke="#c8202f" stroke-width="0.1" >0.01</text>
<text x="113.10" y="431.00" font-size="8.25" text-anchor="end" fill="#231f20" stroke="#231f20" stroke-width="0.1" >Post-HCT cyclophosphamide</text>
<text x="113.10" y="444.00" font-size="8.25" text-anchor="end" fill="#231f20" stroke="#231f20" stroke-width="0.1" >MAC vs RIC</text>
<text x="113.10" y="457.00" font-size="8.25" text-anchor="end" fill="#231f20" stroke="#231f20" stroke-width="0.1" >Active disease vs CR</text>
<text x="113.10" y="470.00" font-size="8.25" text-anchor="end" fill="#231f20" stroke="#231f20" stroke-width="0.1" >MRD vs haplo/cord</text>
<text x="113.10" y="483.00" font-size="8.25" text-anchor="end" fill="#231f20" stroke="#231f20" stroke-width="0.1" >MRD vs MUD</text>
<text x="113.1" y="496.00" font-size="8.25" text-anchor="end" fill="#231f20" stroke="#231f20" stroke-width="0.1">Germline P/LP <tspan font-style="italic">DDX41</tspan> variant</text>
<text x="331.50" y="405.60" font-size="8.5" text-anchor="start" fill="#000" stroke="#000" stroke-width="0.3" font-weight="bold" textLength="100.9" lengthAdjust="spacingAndGlyphs" >Acute GVHD (stage II-IV)</text>
<line x1="382.10" y1="418.00" x2="382.10" y2="502.00" stroke="#9a9ca4" stroke-width="0.9" stroke-dasharray="2.2 0.5"/>
<line x1="333.60" y1="419.00" x2="333.60" y2="502.60" stroke="#231f20" stroke-width="1.3" />
<line x1="330.20" y1="428.20" x2="333.60" y2="428.20" stroke="#231f20" stroke-width="1.0" />
<line x1="330.20" y1="441.20" x2="333.60" y2="441.20" stroke="#231f20" stroke-width="1.0" />
<line x1="330.20" y1="454.20" x2="333.60" y2="454.20" stroke="#231f20" stroke-width="1.0" />
<line x1="330.20" y1="467.20" x2="333.60" y2="467.20" stroke="#231f20" stroke-width="1.0" />
<line x1="330.20" y1="480.20" x2="333.60" y2="480.20" stroke="#231f20" stroke-width="1.0" />
<line x1="330.20" y1="493.20" x2="333.60" y2="493.20" stroke="#231f20" stroke-width="1.0" />
<line x1="333.00" y1="502.00" x2="433.10" y2="502.00" stroke="#231f20" stroke-width="1.3" />
<line x1="333.40" y1="502.00" x2="333.40" y2="504.80" stroke="#231f20" stroke-width="1.0" />
<text x="334.30" y="515.60" font-size="8.3" text-anchor="middle" fill="#231f20" stroke="#231f20" stroke-width="0.1" >2</text>
<line x1="327.40" y1="512.80" x2="331.10" y2="512.80" stroke="#231f20" stroke-width="1.0" />
<line x1="340.73" y1="502.00" x2="340.73" y2="503.60" stroke="#231f20" stroke-width="0.7" />
<line x1="345.02" y1="502.00" x2="345.02" y2="503.60" stroke="#231f20" stroke-width="0.7" />
<line x1="348.06" y1="502.00" x2="348.06" y2="503.60" stroke="#231f20" stroke-width="0.7" />
<line x1="350.42" y1="502.00" x2="350.42" y2="503.60" stroke="#231f20" stroke-width="0.7" />
<line x1="352.35" y1="502.00" x2="352.35" y2="503.60" stroke="#231f20" stroke-width="0.7" />
<line x1="353.98" y1="502.00" x2="353.98" y2="503.60" stroke="#231f20" stroke-width="0.7" />
<line x1="355.39" y1="502.00" x2="355.39" y2="503.60" stroke="#231f20" stroke-width="0.7" />
<line x1="356.64" y1="502.00" x2="356.64" y2="503.60" stroke="#231f20" stroke-width="0.7" />
<line x1="357.75" y1="502.00" x2="357.75" y2="504.80" stroke="#231f20" stroke-width="1.0" />
<text x="358.65" y="515.60" font-size="8.3" text-anchor="middle" fill="#231f20" stroke="#231f20" stroke-width="0.1" >1</text>
<line x1="351.75" y1="512.80" x2="355.45" y2="512.80" stroke="#231f20" stroke-width="1.0" />
<line x1="365.08" y1="502.00" x2="365.08" y2="503.60" stroke="#231f20" stroke-width="0.7" />
<line x1="369.37" y1="502.00" x2="369.37" y2="503.60" stroke="#231f20" stroke-width="0.7" />
<line x1="372.41" y1="502.00" x2="372.41" y2="503.60" stroke="#231f20" stroke-width="0.7" />
<line x1="374.77" y1="502.00" x2="374.77" y2="503.60" stroke="#231f20" stroke-width="0.7" />
<line x1="376.70" y1="502.00" x2="376.70" y2="503.60" stroke="#231f20" stroke-width="0.7" />
<line x1="378.33" y1="502.00" x2="378.33" y2="503.60" stroke="#231f20" stroke-width="0.7" />
<line x1="379.74" y1="502.00" x2="379.74" y2="503.60" stroke="#231f20" stroke-width="0.7" />
<line x1="380.99" y1="502.00" x2="380.99" y2="503.60" stroke="#231f20" stroke-width="0.7" />
<line x1="382.10" y1="502.00" x2="382.10" y2="504.80" stroke="#231f20" stroke-width="1.0" />
<text x="382.10" y="515.60" font-size="8.3" text-anchor="middle" fill="#231f20" stroke="#231f20" stroke-width="0.1" >0</text>
<line x1="389.43" y1="502.00" x2="389.43" y2="503.60" stroke="#231f20" stroke-width="0.7" />
<line x1="393.72" y1="502.00" x2="393.72" y2="503.60" stroke="#231f20" stroke-width="0.7" />
<line x1="396.76" y1="502.00" x2="396.76" y2="503.60" stroke="#231f20" stroke-width="0.7" />
<line x1="399.12" y1="502.00" x2="399.12" y2="503.60" stroke="#231f20" stroke-width="0.7" />
<line x1="401.05" y1="502.00" x2="401.05" y2="503.60" stroke="#231f20" stroke-width="0.7" />
<line x1="402.68" y1="502.00" x2="402.68" y2="503.60" stroke="#231f20" stroke-width="0.7" />
<line x1="404.09" y1="502.00" x2="404.09" y2="503.60" stroke="#231f20" stroke-width="0.7" />
<line x1="405.34" y1="502.00" x2="405.34" y2="503.60" stroke="#231f20" stroke-width="0.7" />
<line x1="406.45" y1="502.00" x2="406.45" y2="504.80" stroke="#231f20" stroke-width="1.0" />
<text x="406.45" y="515.60" font-size="8.3" text-anchor="middle" fill="#231f20" stroke="#231f20" stroke-width="0.1" >1</text>
<line x1="413.78" y1="502.00" x2="413.78" y2="503.60" stroke="#231f20" stroke-width="0.7" />
<line x1="418.07" y1="502.00" x2="418.07" y2="503.60" stroke="#231f20" stroke-width="0.7" />
<line x1="421.11" y1="502.00" x2="421.11" y2="503.60" stroke="#231f20" stroke-width="0.7" />
<line x1="423.47" y1="502.00" x2="423.47" y2="503.60" stroke="#231f20" stroke-width="0.7" />
<line x1="425.40" y1="502.00" x2="425.40" y2="503.60" stroke="#231f20" stroke-width="0.7" />
<line x1="427.03" y1="502.00" x2="427.03" y2="503.60" stroke="#231f20" stroke-width="0.7" />
<line x1="428.44" y1="502.00" x2="428.44" y2="503.60" stroke="#231f20" stroke-width="0.7" />
<line x1="429.69" y1="502.00" x2="429.69" y2="503.60" stroke="#231f20" stroke-width="0.7" />
<line x1="430.80" y1="502.00" x2="430.80" y2="504.80" stroke="#231f20" stroke-width="1.0" />
<text x="430.80" y="515.60" font-size="8.3" text-anchor="middle" fill="#231f20" stroke="#231f20" stroke-width="0.1" >2</text>
<text x="382.10" y="529.70" font-size="10.6" text-anchor="middle" fill="#231f20" stroke="#231f20" stroke-width="0.3" textLength="25.6" lengthAdjust="spacingAndGlyphs" >Log(OR)</text>
<text x="453.70" y="417.70" font-size="8.4" text-anchor="middle" fill="#000" stroke="#000" stroke-width="0.3" font-weight="bold" textLength="62.6" lengthAdjust="spacingAndGlyphs" >Odds ratio (OR)</text>
<text x="490.20" y="417.7" font-size="8.4" font-weight="bold" fill="#000" stroke="#000" stroke-width="0.3" textLength="30.6" lengthAdjust="spacing"><tspan font-style="italic">P</tspan> value</text>
<line x1="333.60" y1="428.20" x2="378.02" y2="428.20" stroke="#47a844" stroke-width="1.2" />
<line x1="378.02" y1="426.80" x2="378.02" y2="429.60" stroke="#47a844" stroke-width="1.0" />
<circle cx="352.35" cy="428.20" r="1.5" fill="#47a844"/>
<text x="353.15" y="425.60" font-size="8.5" text-anchor="middle" fill="#47a844" stroke="#47a844" stroke-width="0.1" >**</text>
<text x="453.70" y="431.10" font-size="8.2" text-anchor="middle" fill="#62ad5e" stroke="#62ad5e" stroke-width="0.1" >0.06 (0.01 – 0.68)</text>
<text x="504.20" y="431.10" font-size="8.2" text-anchor="middle" fill="#62ad5e" stroke="#62ad5e" stroke-width="0.1" >0.02</text>
<line x1="371.59" y1="441.20" x2="387.33" y2="441.20" stroke="#1c4275" stroke-width="1.2" />
<line x1="387.33" y1="439.80" x2="387.33" y2="442.60" stroke="#1c4275" stroke-width="1.0" />
<line x1="371.59" y1="439.80" x2="371.59" y2="442.60" stroke="#1c4275" stroke-width="1.0" />
<circle cx="379.47" cy="441.20" r="1.5" fill="#1c4275"/>
<text x="453.70" y="444.10" font-size="8.2" text-anchor="middle" fill="#2c5f95" stroke="#2c5f95" stroke-width="0.1" >0.78 (0.37 – 1.64)</text>
<text x="504.20" y="444.10" font-size="8.2" text-anchor="middle" fill="#2c5f95" stroke="#2c5f95" stroke-width="0.1" >0.51</text>
<line x1="363.36" y1="467.20" x2="387.71" y2="467.20" stroke="#1c4275" stroke-width="1.2" />
<line x1="387.71" y1="465.80" x2="387.71" y2="468.60" stroke="#1c4275" stroke-width="1.0" />
<line x1="363.36" y1="465.80" x2="363.36" y2="468.60" stroke="#1c4275" stroke-width="1.0" />
<circle cx="375.39" cy="467.20" r="1.5" fill="#1c4275"/>
<text x="453.70" y="470.10" font-size="8.2" text-anchor="middle" fill="#2c5f95" stroke="#2c5f95" stroke-width="0.1" >0.53 (0.17 – 1.7)</text>
<text x="504.20" y="470.10" font-size="8.2" text-anchor="middle" fill="#2c5f95" stroke="#2c5f95" stroke-width="0.1" >0.29</text>
<line x1="374.34" y1="480.20" x2="393.36" y2="480.20" stroke="#1c4275" stroke-width="1.2" />
<line x1="393.36" y1="478.80" x2="393.36" y2="481.60" stroke="#1c4275" stroke-width="1.0" />
<line x1="374.34" y1="478.80" x2="374.34" y2="481.60" stroke="#1c4275" stroke-width="1.0" />
<circle cx="383.94" cy="480.20" r="1.5" fill="#1c4275"/>
<text x="453.70" y="483.10" font-size="8.2" text-anchor="middle" fill="#2c5f95" stroke="#2c5f95" stroke-width="0.1" >1.19 (0.48 – 2.9)</text>
<text x="504.20" y="483.10" font-size="8.2" text-anchor="middle" fill="#2c5f95" stroke="#2c5f95" stroke-width="0.1" >0.69</text>
<line x1="386.67" y1="493.20" x2="410.81" y2="493.20" stroke="#c8102e" stroke-width="1.2" />
<line x1="410.81" y1="491.80" x2="410.81" y2="494.60" stroke="#c8102e" stroke-width="1.0" />
<line x1="386.67" y1="491.80" x2="386.67" y2="494.60" stroke="#c8102e" stroke-width="1.0" />
<circle cx="398.78" cy="493.20" r="1.5" fill="#c8102e"/>
<text x="399.58" y="490.60" font-size="8.5" text-anchor="middle" fill="#c8102e" stroke="#c8102e" stroke-width="0.1" >**</text>
<text x="453.70" y="496.10" font-size="8.2" text-anchor="middle" fill="#c8202f" stroke="#c8202f" stroke-width="0.1" >4.84 (1.54 – 15.1)</text>
<text x="504.20" y="496.10" font-size="8.2" text-anchor="middle" fill="#c8202f" stroke="#c8202f" stroke-width="0.1" >0.006</text>
</svg></body></html>
